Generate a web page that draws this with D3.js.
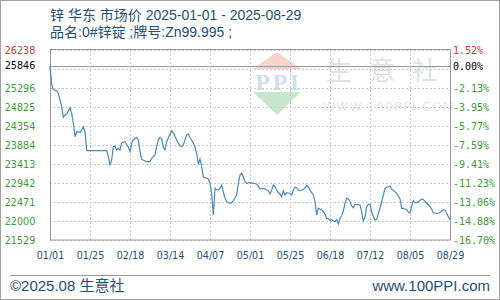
<!DOCTYPE html>
<html><head><meta charset="utf-8">
<script src="https://cdn.jsdelivr.net/npm/d3@7"></script>
<style>body{margin:0;background:#fff}svg{display:block}</style>
</head><body><svg id="c" width="500" height="300"></svg>
<script>
const dates = ["01-01","01-02","01-03","01-04","01-05","01-06","01-07","01-08","01-09","01-10","01-11","01-12","01-13","01-14","01-15","01-16","01-17","01-19","01-20","01-21","01-22","01-23","02-04","02-05","02-06","02-07","02-08","02-09","02-10","02-11","02-12","02-13","02-15","02-17","02-18","02-19","02-20","02-22","02-23","02-24","02-25","02-27","02-28","03-02","03-03","03-04","03-05","03-06","03-07","03-08","03-09","03-10","03-11","03-12","03-14","03-15","03-16","03-18","03-20","03-21","03-22","03-24","03-25","03-26","03-28","03-29","03-30","03-31",
"04-01","04-02","04-03","04-04","04-05","04-06","04-07","04-08","04-09","04-10","04-11","04-12","04-13","04-14","04-15","04-16","04-17","04-18","04-19","04-20","04-21","04-22","04-23","04-24","04-25","04-26","04-27","04-28","04-29","05-01","05-03","05-05","05-06","05-07","05-09","05-11","05-12","05-13","05-14","05-15","05-16","05-17","05-18","05-19","05-20","05-21","05-22","05-23","05-25","05-26","05-27","05-28","05-29","05-30","05-31",
"06-01","06-02","06-03","06-04","06-05","06-06","06-07","06-08","06-09","06-10","06-11","06-12","06-13","06-14","06-15","06-16","06-17","06-18","06-19","06-20","06-21","06-22","06-23","06-24","06-25","06-26","06-27","06-28","06-29","06-30",
"07-01","07-02","07-03","07-04","07-05","07-06","07-07","07-08","07-09","07-10","07-11","07-12","07-13","07-14","07-15","07-16","07-17","07-18","07-19","07-20","07-21","07-22","07-23","07-24","07-25","07-26","07-27","07-28","07-29","07-30","07-31",
"08-01","08-02","08-03","08-04","08-05","08-06","08-07","08-08","08-09","08-10","08-11","08-12","08-13","08-14","08-15","08-16","08-17","08-18","08-19","08-20","08-21","08-22","08-23","08-24","08-25","08-26","08-27","08-28","08-29"];
const prices = [25846,25400,25250,25240,25230,25165,25000,24833,24570,24627,24652,24730,24808,24669,24429,24089,24213,24198,24255,24337,24213,23742,23742,23594,23388,23512,23842,23859,23760,23802,23760,23941,23965,23827,23717,23926,24008,24074,24008,23717,23529,23487,23470,23470,23554,23594,23636,23842,24008,24074,24050,23827,23760,23965,24156,24231,24188,24008,23859,23847,23884,24131,24156,24069,23933,23834,23678,23413,
23540,23346,23090,23075,23058,23035,22934,22686,22149,22818,22768,22768,22810,22892,22719,22570,22478,22458,22439,22453,22508,22570,22644,22934,23140,23182,23098,22974,22934,22949,22934,22917,22867,22793,22810,22768,22743,22669,22768,22892,22850,22768,22706,22669,22602,22751,22644,22701,22682,22644,22768,22835,22818,22768,22756,
22768,22780,22818,22880,22843,22768,22701,22644,22478,22149,22315,22290,22273,22235,22173,22062,22062,22012,22037,22000,21988,22032,21926,22067,22136,22248,22439,22563,22545,22496,
22372,22322,22409,22414,22404,22396,22230,22000,22106,22347,22414,22414,22230,22106,22025,22042,22191,22315,22483,22644,22810,22835,22850,22867,22786,22764,22724,22686,22620,22545,22315,
22315,22297,22285,22223,22198,22354,22503,22463,22458,22478,22508,22545,22533,22483,22446,22396,22359,22297,22206,22198,22191,22198,22206,22248,22273,22273,22191,22106,22042];
const xTickLabels = ["01/01","01/25","02/18","03/14","04/07","05/01","05/25","06/18","07/12","08/05","08/29"];
const yTickValues = [21529,22000,22471,22942,23413,23884,24354,24825,25296,25846,26238];
const pctLabels = ["-16.70%","-14.88%","-13.06%","-11.23%","-9.41%","-7.59%","-5.77%","-3.95%","-2.13%","0.00%","1.52%"];
const basePrice = 25846;
const title1 = "锌 华东 市场价 2025-01-01 - 2025-08-29";
const title2 = "品名:0#锌锭 ;牌号:Zn99.995 ;";

const svg = d3.select("#c");
const L=50,R=450,T=50,B=240;
const parse = d3.timeParse("%Y-%m-%d");
const x = d3.scaleTime().domain([parse("2025-01-01"),parse("2025-08-29")]).range([L,R]);
const y = d3.scaleLinear().domain([21529,26238]).range([B,T]);
const blue="#1f4f73";
const txtFont = "Liberation Sans, Noto Sans CJK SC, sans-serif";

svg.append("rect").attr("x",0.5).attr("y",0.5).attr("width",499).attr("height",299).attr("fill","#fff").attr("stroke","#a0a0a0");

// watermark
const wm = svg.append("g").attr("opacity",0.28);
wm.append("path").attr("d","M277,52 L301,69 L253,69 Z").attr("fill","#e8604c");
wm.append("path").attr("d","M253,92 L301,92 L277,115 Z").attr("fill","#3aa04a");
wm.append("text").attr("x",277).attr("y",90).attr("text-anchor","middle").attr("font-family","DejaVu Serif").attr("font-weight","bold").attr("font-size",20).attr("fill","#6a8cc8").attr("textLength",44).text("PPI");
wm.append("text").attr("x",326).attr("y",80).attr("font-family","Noto Sans CJK SC").attr("font-size",26).attr("letter-spacing",17).attr("fill","#8a9ab0").text("生意社");
wm.append("text").attr("x",323).attr("y",111).attr("font-family","DejaVu Sans").attr("font-size",12).attr("letter-spacing",1.5).attr("fill","#9aa6b6").text("WWW.100PPI.COM");

// grid
const xTickDates = xTickLabels.map(s=>parse("2025-"+s.replace("/","-")));
const gridYs = d3.range(0,11).map(i=>21529+i*(26238-21529)/10);
svg.append("g").selectAll("line").data(xTickDates).join("line")
 .attr("x1",d=>Math.round(x(d))+0.5).attr("x2",d=>Math.round(x(d))+0.5).attr("y1",T).attr("y2",B)
 .attr("stroke","#c8c8c8").attr("stroke-dasharray","2,2");
svg.append("g").selectAll("line").data(gridYs).join("line")
 .attr("x1",L).attr("x2",R).attr("y1",d=>Math.round(y(d))+0.5).attr("y2",d=>Math.round(y(d))+0.5)
 .attr("stroke","#c8c8c8").attr("stroke-dasharray","2,2");
svg.append("line").attr("x1",L).attr("x2",R).attr("y1",Math.round(y(basePrice))+0.5).attr("y2",Math.round(y(basePrice))+0.5).attr("stroke","#999");
svg.append("rect").attr("x",L+0.5).attr("y",T-0.5).attr("width",R-L).attr("height",B-T+0.5).attr("fill","none").attr("stroke","#999");

// line
const pts = dates.map((d,i)=>({d:parse("2025-"+d),v:prices[i]}));
svg.append("path").datum(pts).attr("fill","none").attr("stroke","#4a8ab5").attr("stroke-width",1.2)
 .attr("d",d3.line().x(p=>x(p.d)).y(p=>y(p.v)));

// axes labels
const colorFor = v => v>basePrice ? "#c8383c" : (v===basePrice ? "#000" : "#3a9a3a");
const leftAxis = d3.axisLeft(y).tickValues(yTickValues).tickSize(0).tickPadding(0).tickFormat(d=>d);
const gl = svg.append("g").attr("transform","translate(35,0)").call(leftAxis);
gl.select(".domain").remove();
gl.selectAll("text").attr("font-family","DejaVu Sans").attr("font-size",9.6).attr("text-anchor","middle").attr("dx",-15)
  .attr("fill",d=>colorFor(d));
const rightAxis = d3.axisRight(y).tickValues(yTickValues).tickSize(0).tickPadding(0).tickFormat((d,i)=>pctLabels[i]);
const gr = svg.append("g").attr("transform","translate(453,0)").call(rightAxis);
gr.select(".domain").remove();
gr.selectAll("text").attr("font-family","DejaVu Sans Mono").attr("font-size",10).attr("fill",d=>colorFor(d));
const bottomAxis = d3.axisBottom(x).tickValues(xTickDates).tickSize(0).tickPadding(0).tickFormat((d,i)=>xTickLabels[i]);
const gb = svg.append("g").attr("transform","translate(0,252)").call(bottomAxis);
gb.select(".domain").remove();
gb.selectAll("text").attr("font-family","DejaVu Sans").attr("font-size",9.6).attr("fill",blue);

// titles
svg.append("text").attr("x",50).attr("y",20).attr("font-family",txtFont).attr("font-size",14).attr("fill",blue).text(title1);
svg.append("text").attr("x",50).attr("y",37).attr("font-family",txtFont).attr("font-size",14).attr("fill",blue).text(title2);

// footer
svg.append("line").attr("x1",10).attr("x2",490).attr("y1",275.5).attr("y2",275.5).attr("stroke","#999");
svg.append("text").attr("x",10).attr("y",291).attr("font-family",txtFont).attr("font-size",15).attr("fill",blue).text("©2025.08 生意社");
svg.append("text").attr("x",490).attr("y",291).attr("text-anchor","end").attr("font-family",txtFont).attr("font-size",15).attr("fill",blue).text("www.100PPI.com");
</script></body></html>
